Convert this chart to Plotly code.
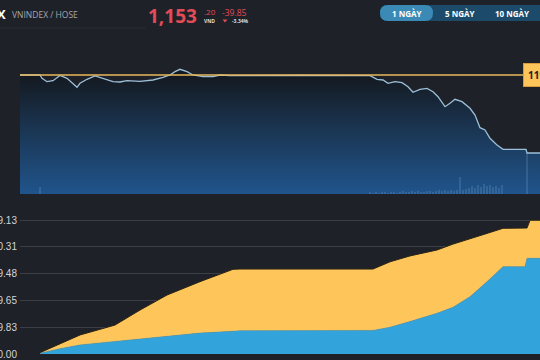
import plotly.graph_objects as go

W, H = 540, 360
def px(x): return x / W
def py(y): return 1 - y / H

# ---------------- data ----------------
ref_price = 1193.05
last_price = 1153.20
price_time = [0, 10, 11, 13.5, 16.5, 20, 23.5, 26, 28.5, 30, 33.5, 37.5, 41.5, 46.5, 50, 53.5,
              60, 66.5, 71.5, 75, 77.5, 80, 83.5, 86.5, 91.5, 96.5, 100, 105, 140, 175,
              178.5, 181.5, 184, 187.5, 191, 194, 196.5, 200, 203.5, 206.5, 209, 212.5, 215,
              217.5, 221, 225, 227.5, 230, 232.5, 235, 238.5, 241.5, 253, 253.5, 260]
price = [1193.05, 1193.05, 1191.36, 1189.63, 1190.14, 1192.80, 1191.36, 1188.81, 1186.77, 1188.81,
         1190.85, 1192.54, 1191.36, 1189.63, 1189.47, 1190.14, 1189.83, 1190.50, 1191.87, 1193.05,
         1194.74, 1195.96, 1194.74, 1193.05, 1192.18, 1192.18, 1193.05, 1192.69, 1192.80, 1192.69,
         1190.85, 1190.50, 1188.81, 1189.63, 1189.12, 1187.07, 1184.21, 1185.74, 1186.25, 1184.52,
         1181.96, 1176.85, 1178.59, 1180.63, 1179.41, 1176.04, 1172.61, 1166.13, 1164.95, 1160.71,
         1157.29, 1155.09, 1155.09, 1153.20, 1153.20]

vol_time = [10, 175, 176.5, 178, 179.5, 181, 182.5, 184, 185.5, 187, 188.5, 190, 191.5, 193, 194.5,
            196, 197.5, 199, 200.5, 202, 203.5, 205, 206.5, 208, 209.5, 211, 212.5, 214, 215.5,
            217, 218.5, 220, 221.5, 223, 224.5, 226, 227.5, 229, 230.5, 232, 233.5, 235, 236.5,
            238, 239.5, 241, 253.5]
volume = [7, 2, 1, 2, 1, 2, 2, 1, 2, 2, 1, 2, 3, 2, 2, 3, 2, 3, 2, 2, 3, 3, 2, 3, 4, 3, 4, 3, 4,
          3, 4, 17, 4, 5, 6, 8, 6, 9, 7, 10, 8, 9, 7, 8, 6, 9, 41]

flow_time = [10, 20, 30, 47.5, 60, 73.5, 90, 106.5, 110, 176.5, 185, 195, 208.5, 216.5, 225,
             233.5, 241.5, 252.5, 253.5, 255, 260]
flow_blue = [0.03, 0.20, 0.34, 0.47, 0.56, 0.65, 0.78, 0.85, 0.87, 0.88, 1.00, 1.21, 1.52, 1.74,
             2.14, 2.70, 3.26, 3.26, 3.57, 3.57, 3.57]
flow_total = [0.05, 0.38, 0.71, 1.08, 1.64, 2.20, 2.70, 3.16, 3.17, 3.17, 3.44, 3.66, 3.88, 4.10,
              4.29, 4.50, 4.69, 4.70, 4.70, 4.99, 4.99]
flow_ticks = [0, 1, 2, 3, 4, 5]
flow_ticktext = ["0.00", "9.83", "9.65", "9.48", "0.31", "9.13"]

ticker = "VNINDEX / HOSE"
price_int = "1,153"
price_dec = ".20"
change = "-39.85"
change_pct = "-3.34%"
ranges = ["1 NGÀY", "5 NGÀY", "10 NGÀY"]

# ---------------- colours ----------------
BG = "#1f2128"
RED = "#e34b57"
GOLD = "#e9b85a"
YELLOW = "#fdc55a"
BLUE = "#33a3dc"

y_top, y_bot = 1199.69, 1132.25

fig = go.Figure()

fig.add_trace(go.Scatter(
    x=price_time, y=price, mode="lines", xaxis="x", yaxis="y",
    line=dict(color="#9cbfd8", width=1.3), fill="tozeroy",
    fillgradient=dict(type="vertical", start=y_bot, stop=ref_price,
                      colorscale=[[0, "#20548c"], [0.5, "#1b3857"], [1, "#141920"]]),
    hoverinfo="skip", showlegend=False))

fig.add_trace(go.Bar(
    x=vol_time, y=volume, xaxis="x", yaxis="y3", width=0.7,
    marker=dict(color="rgba(150,195,235,0.25)", line=dict(width=0)),
    hoverinfo="skip", showlegend=False))

fig.add_trace(go.Scatter(
    x=[0, 260], y=[ref_price, ref_price], mode="lines", xaxis="x", yaxis="y",
    line=dict(color=GOLD, width=1.3), hoverinfo="skip", showlegend=False))

fig.add_trace(go.Scatter(
    x=flow_time, y=flow_blue, mode="lines", xaxis="x2", yaxis="y2",
    line=dict(color=BLUE, width=0.5), fill="tozeroy", fillcolor=BLUE,
    hoverinfo="skip", showlegend=False))
fig.add_trace(go.Scatter(
    x=flow_time, y=flow_total, mode="lines", xaxis="x2", yaxis="y2",
    line=dict(color="#2a2416", width=1), fill="tonexty", fillcolor=YELLOW,
    hoverinfo="skip", showlegend=False))

fig.update_layout(
    width=W, height=H, autosize=False, margin=dict(l=0, r=0, t=0, b=0, pad=0, autoexpand=False),
    paper_bgcolor=BG, plot_bgcolor="rgba(0,0,0,0)",
    showlegend=False,
    xaxis=dict(domain=[px(20), 1], range=[0, 260], visible=False, automargin=False),
    yaxis=dict(domain=[py(194), py(62)], range=[y_bot, y_top], visible=False, automargin=False),
    yaxis3=dict(domain=[py(194), py(62)], range=[0, 132], overlaying="y", visible=False,
                automargin=False),
    xaxis2=dict(domain=[px(20), 1], range=[0, 260], anchor="y2", visible=False, automargin=False),
    yaxis2=dict(domain=[py(354), py(210)], range=[0, 5.373], anchor="x2",
                tickvals=flow_ticks, ticktext=flow_ticktext, showgrid=True,
                gridcolor="#3b3e47", gridwidth=1, zeroline=False, showline=False,
                ticks="", ticklabelstandoff=2, automargin=False,
                tickfont=dict(family="Liberation Sans, Arial", size=10, color="#d2d4d8")),
)

shapes = []
shapes.append(dict(type="line", xref="paper", yref="paper", x0=0, x1=px(145), y0=py(28), y1=py(28),
                   line=dict(color="#2b2e36", width=1)))

def pill(x0, x1, y0, y1, color):
    r = (y1 - y0) / 2
    path = (f"M {px(x0 + r)},{py(y0)} L {px(x1 - r)},{py(y0)} "
            f"Q {px(x1)},{py(y0)} {px(x1)},{py(y0 + r)} "
            f"Q {px(x1)},{py(y1)} {px(x1 - r)},{py(y1)} "
            f"L {px(x0 + r)},{py(y1)} "
            f"Q {px(x0)},{py(y1)} {px(x0)},{py(y0 + r)} "
            f"Q {px(x0)},{py(y0)} {px(x0 + r)},{py(y0)} Z")
    return dict(type="path", xref="paper", yref="paper", path=path,
                fillcolor=color, line=dict(width=0), layer="above")

shapes.append(pill(380, 548, 5, 21, "#1b4a6a"))
shapes.append(pill(380, 433, 5, 21, "#3a8ab5"))
shapes.append(dict(type="path", xref="paper", yref="paper",
                   path=f"M {px(222.5)},{py(19.5)} L {px(227.5)},{py(19.5)} L {px(225)},{py(22.5)} Z",
                   fillcolor=RED, line=dict(width=0)))
fig.update_layout(shapes=shapes)

ann = []
def txt(x, y, s, size, color, bold=False, xanchor="left", family="Open Sans"):
    ann.append(dict(x=px(x), y=py(y), xref="paper", yref="paper", text=f"<b>{s}</b>" if bold else s,
                    showarrow=False, xanchor=xanchor, yanchor="middle",
                    font=dict(family=family, size=size, color=color)))

txt(8, 14, "X", 13, "#ffffff", bold=True, xanchor="right")
txt(10, 15, ticker, 8.5, "#a3a7ae")
txt(146, 16, price_int, 19, RED, bold=True)
txt(202, 12, price_dec, 8, RED)
txt(202, 20.5, "VND", 5, "#dddddd", bold=True)
txt(220, 12.5, change, 8.5, RED)
txt(230, 20.5, change_pct, 5, "#dddddd", bold=True)
for label, cx in zip(ranges, [406, 459, 512]):
    txt(cx, 13.5, label, 8, "#ffffff", bold=True, xanchor="center")

ann.append(dict(x=px(523), y=ref_price, xref="paper", yref="y", text="<b>1193.05</b>",
                showarrow=False, xanchor="left", yanchor="middle",
                bgcolor=YELLOW, bordercolor="#d99a3a", borderwidth=1, borderpad=4,
                font=dict(family="Open Sans", size=10, color="#1f2128")))
fig.update_layout(annotations=ann)

fig.write_html(
    "out.html",
    config={"responsive": False, "displayModeBar": False},
    post_script="document.body.style.margin='0';document.body.style.overflow='hidden';",
)
